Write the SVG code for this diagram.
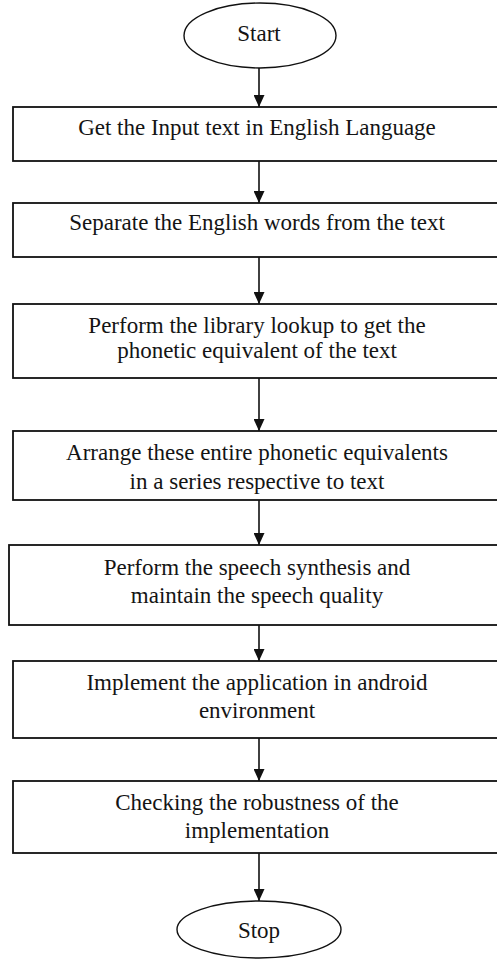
<svg xmlns="http://www.w3.org/2000/svg" width="497" height="961" viewBox="0 0 497 961">
  <style>
    .box { fill: #ffffff; stroke: #111111; stroke-width: 1.8; }
    .term { fill: #ffffff; stroke: #111111; stroke-width: 1.4; }
    .label { font-family: "Liberation Serif", "Times New Roman", serif; font-size: 23px; fill: #141414; text-anchor: middle; }
    .flow { stroke: #111111; stroke-width: 1.6; fill: none; marker-end: url(#arrow); }
  </style>
  <defs>
    <!-- solid arrowhead pointing along the line direction, tip at the line end -->
    <marker id="arrow" markerUnits="userSpaceOnUse" markerWidth="12" markerHeight="11" viewBox="0 0 12 11" refX="12" refY="5.5" orient="auto">
      <path d="M0,0 L12,5.5 L0,11 Z" fill="#111111"/>
    </marker>
  </defs>
  <rect width="497" height="961" fill="#ffffff"/>

  <g id="connectors">
    <line class="flow" x1="259" y1="68" x2="259" y2="107"/>
    <line class="flow" x1="259" y1="161" x2="259" y2="203"/>
    <line class="flow" x1="259" y1="257" x2="259" y2="304"/>
    <line class="flow" x1="259" y1="378" x2="259" y2="431"/>
    <line class="flow" x1="259" y1="500" x2="259" y2="545"/>
    <line class="flow" x1="259" y1="625" x2="259" y2="661"/>
    <line class="flow" x1="259" y1="738" x2="259" y2="781"/>
    <line class="flow" x1="259" y1="853" x2="259" y2="901"/>
  </g>

  <g id="start">
    <ellipse class="term" cx="260" cy="35.5" rx="76" ry="32.5"/>
    <text class="label" x="259" y="41">Start</text>
  </g>

  <g id="step1">
    <rect class="box" x="13" y="107" width="490" height="54"/>
    <text class="label" x="257" y="135">Get the Input text in English Language</text>
  </g>

  <g id="step2">
    <rect class="box" x="13" y="203" width="490" height="54"/>
    <text class="label" x="257" y="230">Separate the English words from the text</text>
  </g>

  <g id="step3">
    <rect class="box" x="13" y="304" width="490" height="74"/>
    <text class="label" x="257" y="333">Perform the library lookup to get the</text>
    <text class="label" x="257" y="358">phonetic equivalent  of the text</text>
  </g>

  <g id="step4">
    <rect class="box" x="13" y="431" width="490" height="69"/>
    <text class="label" x="257" y="460">Arrange these entire phonetic equivalents</text>
    <text class="label" x="257" y="489">in a series respective to text</text>
  </g>

  <g id="step5">
    <rect class="box" x="9" y="545" width="494" height="80"/>
    <text class="label" x="257" y="575">Perform the speech synthesis and</text>
    <text class="label" x="257" y="603">maintain the speech quality</text>
  </g>

  <g id="step6">
    <rect class="box" x="13" y="661" width="490" height="77"/>
    <text class="label" x="257" y="690">Implement the application  in android</text>
    <text class="label" x="257" y="718">environment</text>
  </g>

  <g id="step7">
    <rect class="box" x="13" y="781" width="490" height="72"/>
    <text class="label" x="257" y="810">Checking the robustness of the</text>
    <text class="label" x="257" y="838">implementation</text>
  </g>

  <g id="stop">
    <ellipse class="term" cx="259" cy="929.5" rx="82" ry="28.5"/>
    <text class="label" x="259" y="938">Stop</text>
  </g>
</svg>
